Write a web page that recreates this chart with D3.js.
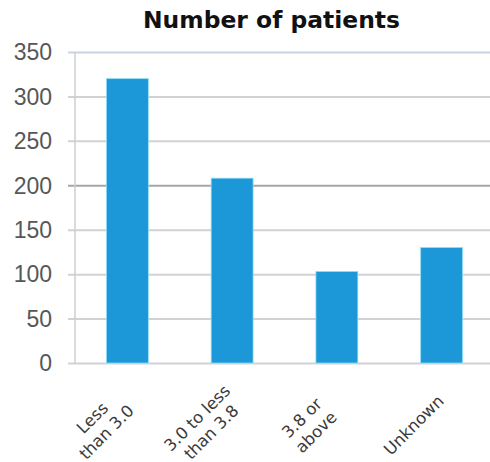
<!DOCTYPE html>
<html>
<head>
<meta charset="utf-8">
<script src="https://cdn.jsdelivr.net/npm/d3@7"></script>
<style>
  html, body { margin: 0; padding: 0; background: #fff; }
  svg { display: block; }
</style>
</head>
<body>
<svg id="chart" width="490" height="462"></svg>
<script>
// Patient counts by category
const categories = ["Less than 3.0", "3.0 to less than 3.8", "3.8 or above", "Unknown"];
const categoryLines = [["Less", "than 3.0"], ["3.0 to less", "than 3.8"], ["3.8 or", "above"], ["Unknown"]];
const patients = [320, 208, 103, 130];
const yTicks = [0, 50, 100, 150, 200, 250, 300, 350];
const title = "Number of patients";

const svg = d3.select("#chart");
const W = 490, H = 462;
const plot = { left: 75, right: 494, top: 52, bottom: 363 };

svg.append("rect").attr("width", W).attr("height", H).attr("fill", "#fff");

const x = d3.scaleBand()
  .domain(categories)
  .range([plot.left, plot.right])
  .paddingInner(0.6)
  .paddingOuter(0.3);

const y = d3.scaleLinear()
  .domain([0, 350])
  .range([plot.bottom, plot.top]);

// Horizontal gridlines with short outside ticks
const yAxis = d3.axisLeft(y)
  .tickValues(yTicks)
  .tickSize(-(W - plot.left))
  .tickSizeOuter(0)
  .tickFormat("");

const gGrid = svg.append("g")
  .attr("transform", `translate(${plot.left},0)`)
  .call(yAxis);
gGrid.select(".domain").remove();
gGrid.selectAll(".tick line")
  .attr("x1", -7)
  .attr("stroke", d => d === 350 ? "#c9d3e3" : (d === 200 ? "#a6a6a6" : "#d2d2d2"))
  .attr("stroke-width", 2);

// Vertical axis line
svg.append("line")
  .attr("x1", plot.left).attr("x2", plot.left)
  .attr("y1", y(350)).attr("y2", y(0))
  .attr("stroke", "#cfcfcf")
  .attr("stroke-width", 1.5);

// Y tick labels
svg.append("g").selectAll("text")
  .data(yTicks)
  .join("text")
  .attr("x", 52)
  .attr("y", d => y(d))
  .attr("dy", "0.36em")
  .attr("text-anchor", "end")
  .attr("font-family", "'Liberation Sans', Arial, sans-serif")
  .attr("font-size", 23)
  .attr("fill", "#575757")
  .text(d => d);

// Bars
svg.append("g").selectAll("rect")
  .data(patients)
  .join("rect")
  .attr("x", (d, i) => x(categories[i]))
  .attr("width", x.bandwidth())
  .attr("y", d => y(d))
  .attr("height", d => y(0) - y(d))
  .attr("fill", "#1c98d8")
  .attr("stroke", "#8fdcf5")
  .attr("stroke-width", 0.8);

// Rotated, centered, wrapped category labels
const lh = 20;
const gLabels = svg.append("g");
categoryLines.forEach((lines, i) => {
  const cx = x(categories[i]) + x.bandwidth() / 2;
  const g = gLabels.append("g")
    .attr("transform", `translate(${cx - 28},${425}) rotate(-45)`);
  const n = lines.length;
  g.selectAll("text")
    .data(lines)
    .join("text")
    .attr("x", 0)
    .attr("y", (d, j) => (j - (n - 1) / 2) * lh)
    .attr("dy", "0.35em")
    .attr("text-anchor", "middle")
    .attr("font-family", "'DejaVu Sans', Verdana, sans-serif")
    .attr("font-size", 16.5)
    .attr("fill", "#3a3a3a")
    .text(d => d);
});

// Title
svg.append("text")
  .attr("x", 271.5)
  .attr("y", 28)
  .attr("text-anchor", "middle")
  .attr("font-family", "'DejaVu Sans', Verdana, sans-serif")
  .attr("font-weight", "bold")
  .attr("font-size", 23)
  .attr("textLength", 257)
  .attr("lengthAdjust", "spacingAndGlyphs")
  .attr("fill", "#111")
  .text(title);
</script>
</body>
</html>
